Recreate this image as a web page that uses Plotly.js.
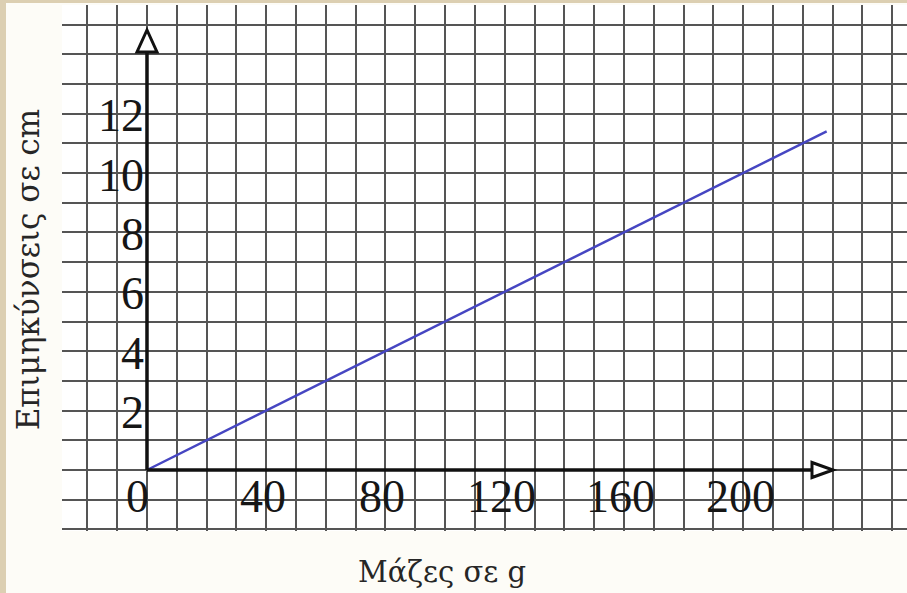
<!DOCTYPE html>
<html>
<head>
<meta charset="utf-8">
<script src="https://cdn.plot.ly/plotly-3.0.1.min.js"></script>
<style>
  html, body { margin: 0; padding: 0; width: 907px; height: 593px; overflow: hidden; background: #dccfb2; }
  #chart { position: absolute; left: 6px; top: 3px; width: 901px; height: 590px; }
</style>
</head>
<body>
<div id="chart"></div>
<script>
// ---- data ----
const mass = [0, 228];          // g
const extension = [0, 11.4];    // cm
const xTickVals = [0, 40, 80, 120, 160, 200];
const xTickText = ['0', '40', '80', '120', '160', '200'];
const yTickVals = [2, 4, 6, 8, 10, 12];
const yTickText = ['2', '4', '6', '8', '10', '12'];
const xTitle = 'Μάζες σε g';
const yTitle = 'Επιμηκύνσεις σε cm';

const tickFont = { family: 'Liberation Serif, Times New Roman, serif', size: 46, color: '#161616' };
const xTitleFont = { family: 'DejaVu Serif, serif', size: 29, color: '#262626' };
const yTitleFont = { family: 'DejaVu Serif, serif', size: 31, color: '#262626' };

const annotations = [];
xTickVals.forEach((v, i) => {
  annotations.push({
    x: v, y: 0, xref: 'x', yref: 'y', text: xTickText[i], showarrow: false,
    xanchor: 'center', yanchor: 'middle', yshift: -26, xshift: v === 0 ? -9 : -3,
    font: tickFont
  });
});
yTickVals.forEach((v, i) => {
  annotations.push({
    x: 0, y: v, xref: 'x', yref: 'y', text: yTickText[i], showarrow: false,
    xanchor: 'right', yanchor: 'middle', xshift: -1, yshift: -2,
    font: tickFont
  });
});
annotations.push({
  x: 0.4497, y: -0.078, xref: 'paper', yref: 'paper', text: xTitle, showarrow: false,
  xanchor: 'center', yanchor: 'middle', font: xTitleFont
});
annotations.push({
  x: -0.040, y: 0.496, xref: 'paper', yref: 'paper', text: yTitle, showarrow: false,
  xanchor: 'center', yanchor: 'middle', textangle: -90, font: yTitleFont
});

const axisStyle = { color: '#111', width: 3.5 };
const shapes = [
  // vertical axis line + hollow arrow
  { type: 'path', xref: 'x', yref: 'y', xsizemode: 'pixel', ysizemode: 'pixel', xanchor: 0, yanchor: 0,
    path: 'M 0,0 L 0,418', line: axisStyle, layer: 'above' },
  { type: 'path', xref: 'x', yref: 'y', xsizemode: 'pixel', ysizemode: 'pixel', xanchor: 0, yanchor: 0,
    path: 'M -10,418 L 10,418 L 0,440 Z', line: { color: '#111', width: 3 }, fillcolor: 'white', layer: 'above' },
  // horizontal axis line + hollow arrow
  { type: 'path', xref: 'x', yref: 'y', xsizemode: 'pixel', ysizemode: 'pixel', xanchor: 0, yanchor: 0,
    path: 'M 0,0 L 665,0', line: axisStyle, layer: 'above' },
  { type: 'path', xref: 'x', yref: 'y', xsizemode: 'pixel', ysizemode: 'pixel', xanchor: 0, yanchor: 0,
    path: 'M 665,-7.5 L 665,7.5 L 686,0 Z', line: { color: '#111', width: 3 }, fillcolor: 'white', layer: 'above' }
];

const trace = {
  x: mass, y: extension, type: 'scatter', mode: 'lines',
  line: { color: '#4646c2', width: 2.5 }, hoverinfo: 'skip'
};

const gridStyle = { showgrid: true, gridcolor: '#555555', gridwidth: 2, zeroline: false,
  showticklabels: false, ticks: '', showline: false, fixedrange: true };

const layout = {
  width: 901, height: 590,
  margin: { l: 56, r: 0, t: 2, b: 62, pad: 0 },
  paper_bgcolor: '#fdfcf7',
  plot_bgcolor: '#ffffff',
  showlegend: false,
  xaxis: Object.assign({}, gridStyle, { range: [-28.51, 254.95], tick0: 0, dtick: 10 }),
  yaxis: Object.assign({}, gridStyle, { range: [-2.054, 15.657], tick0: 0, dtick: 1 }),
  annotations: annotations,
  shapes: shapes
};

Plotly.newPlot('chart', [trace], layout, { displayModeBar: false, staticPlot: true });
</script>
</body>
</html>
